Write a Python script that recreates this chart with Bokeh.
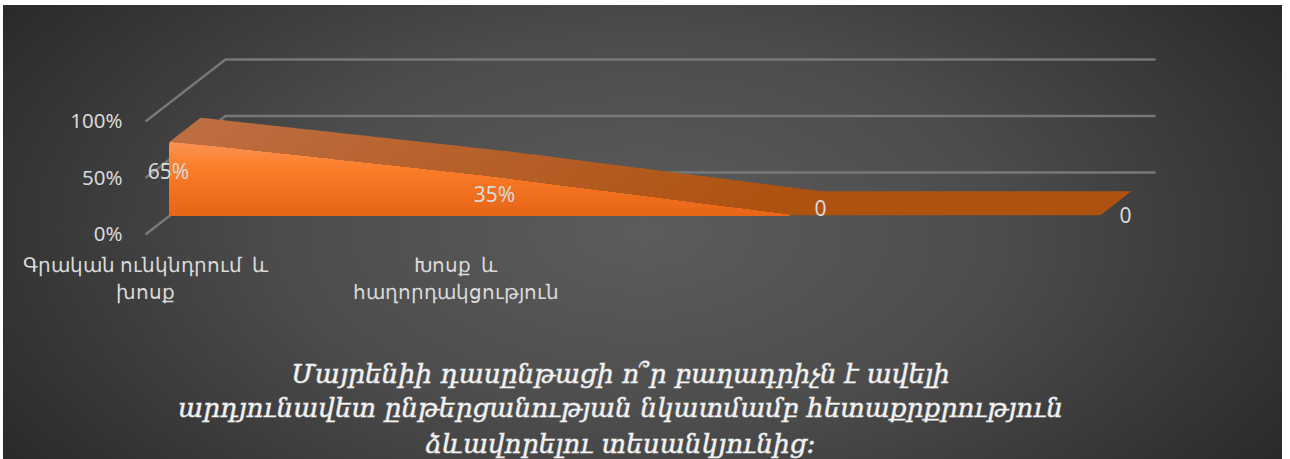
from bokeh.plotting import figure
from bokeh.models import Range1d, LinearAxis, FixedTicker
from bokeh.core.properties import value
from bokeh.embed import file_html
from bokeh.resources import INLINE
import numpy as np

# --- data ---
categories = ["Գրական ունկնդրում\u00a0\u00a0և\nխոսք", "Խոսք\u00a0\u00a0և\nհաղորդակցություն", "", ""]
series_values = [65, 35, 0, 0]
series_labels = ["65%", "35%", "0", "0"]
y_ticks = [0, 50, 100]
y_tick_labels = {0: "0%", 50: "50%", 100: "100%"}
title_lines = ["Մայրենիի դասընթացի ո՞ր բաղադրիչն է ավելի",
               "արդյունավետ ընթերցանության նկատմամբ հետաքրքրություն",
               "ձևավորելու տեսանկյունից:"]

# --- layout ---
W, H = 1279, 454
LEFT, TOP = 3, 5
X0, STEP = 169.0, 310.3      # px of category 0, px per category
Y0, UNIT = 214.7, 1.13       # px of value 0, px per percent
def ux(px): return (px - X0) / STEP
def uy(py): return (Y0 - py) / UNIT

p = figure(width=W, height=H, toolbar_location=None, output_backend="svg",
           x_range=Range1d(ux(LEFT), ux(LEFT + W)), y_range=Range1d(uy(TOP + H), uy(TOP)),
           min_border=0, outline_line_color=None, x_axis_type=None, y_axis_type=None)
p.margin = (TOP, 0, 0, LEFT)
p.background_fill_alpha = 0
p.border_fill_alpha = 0
p.grid.visible = False
p.styles = {"background": "radial-gradient(ellipse 62% 95% at 50% 50%, #5c5c5c 0%, #4c4c4c 45%, #383838 75%, #272727 100%)"}

# walls: gridlines on the back plane, with a slanted line toward the front axis
for v in y_ticks:
    back_y = uy(172) + v
    front_y = uy(234) + v
    p.line([ux(145), ux(225), ux(1155)], [front_y, back_y, back_y],
           line_color="#787878", line_width=2.4)

xs = np.arange(len(series_values), dtype=float)
vals = np.array(series_values, dtype=float)
DX, DY = 31 / STEP, 24 / UNIT

# top surface, shaded along the ribbon
C0, C1 = np.array([0xbe, 0x6e, 0x42]), np.array([0xae, 0x52, 0x11])
ts = np.linspace(0, 3, 121)
fy = np.interp(ts, xs, vals)
for i in range(len(ts) - 1):
    t0, t1 = ts[i], min(ts[i + 1] + 0.004, 3)
    y0, y1 = fy[i], np.interp(t1, xs, vals)
    c = C0 + (C1 - C0) * min(ts[i] / 1.9, 1)
    col = "#%02x%02x%02x" % tuple(int(round(k)) for k in c)
    p.patch([t0, t1, t1 + DX, t0 + DX], [y0, y1, y1 + DY, y0 + DY],
            fill_color=col, line_color=None)

# front face, shaded vertically
stops_v = [65, 45, 28, 0]
stops_c = [(0xfb, 0x92, 0x55), (0xfb, 0x80, 0x2d), (0xf5, 0x74, 0x22), (0xe6, 0x65, 0x18)]
grid = np.linspace(0, 3, 601)
top = np.interp(grid, xs, vals)
for L in np.linspace(65, 1, 65):
    c = [np.interp(L, stops_v[::-1], [s[k] for s in stops_c[::-1]]) for k in range(3)]
    col = "#%02x%02x%02x" % tuple(int(round(k)) for k in c)
    upper = np.minimum(top, L)
    mask = top > 0.001
    mask[np.argmax(top <= 0.001)] = True
    gx, gy = grid[mask], upper[mask]
    p.patch(np.r_[gx, gx[-1], gx[0]], np.r_[gy, 0, 0], fill_color=col, line_color=None)

# value axis at the front left
p.extra_y_ranges["front"] = Range1d(uy(TOP + H) - uy(232.5), uy(TOP) - uy(232.5))
yaxis = LinearAxis(y_range_name="front", ticker=FixedTicker(ticks=y_ticks),
                   major_label_overrides=y_tick_labels, fixed_location=ux(138),
                   axis_line_color=None, major_tick_line_color=None, minor_tick_line_color=None,
                   major_label_standoff=10, major_label_text_color="#d9d9d9",
                   major_label_text_font="Noto Sans", major_label_text_font_size="20.5px")
p.add_layout(yaxis, "left")

# category axis below
p.extra_x_ranges["front"] = Range1d(ux(LEFT + 24), ux(LEFT + W + 24))
xaxis = LinearAxis(x_range_name="front", ticker=FixedTicker(ticks=list(xs[:2])),
                   major_label_overrides={int(i): c for i, c in enumerate(categories[:2])},
                   fixed_location=uy(244), axis_line_color=None, major_tick_line_color=None,
                   minor_tick_line_color=None, major_label_standoff=0,
                   major_label_text_color="#d9d9d9", major_label_text_font="Noto Sans",
                   major_label_text_font_size="20px", major_label_text_line_height=1.02)
p.add_layout(xaxis, "below")

# data labels
lab_dx = [-1 / STEP, 14.7 / STEP, 30.4 / STEP, 25 / STEP]
lab_dy = [-26.0, -15.8, 6.2, 0.0]
p.text(xs + np.array(lab_dx), vals + np.array(lab_dy), text=series_labels,
       text_font=value("Noto Sans"), text_font_size="21px", text_color="#d9d9d9",
       text_align="center", text_baseline="middle")

# chart title
p.text([ux(620)] * 3, [uy(373), uy(407), uy(443)], text=title_lines,
       text_font=value("DejaVu Serif"), text_font_style="italic", text_font_size="26.4px",
       text_color="#f2f2f2", text_outline_color="#f2f2f288", text_align="center", text_baseline="alphabetic")

open("out.html", "w").write(file_html(p, INLINE))
